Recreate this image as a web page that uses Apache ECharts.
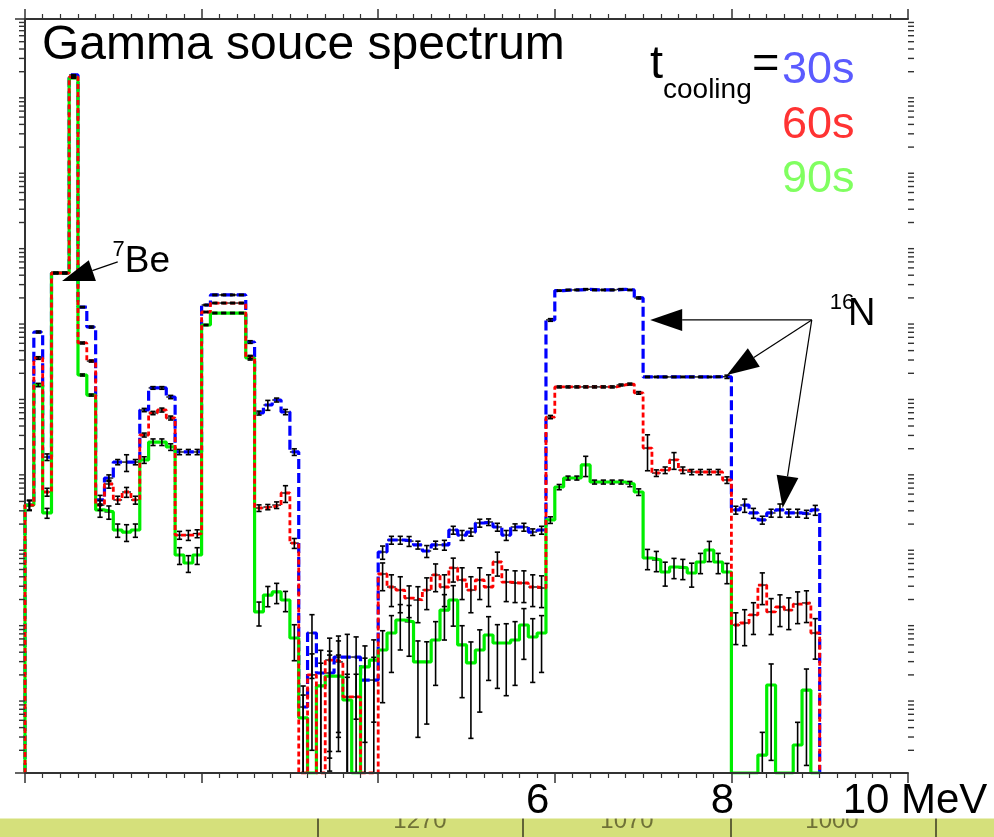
<!DOCTYPE html>
<html>
<head>
<meta charset="utf-8">
<script src="https://cdn.jsdelivr.net/npm/echarts@6/dist/echarts.min.js"></script>
<style>
  html, body { margin: 0; padding: 0; background: #ffffff; }
  #chart { width: 994px; height: 837px; }
</style>
</head>
<body>
<div id="chart"></div>
<script>
// Gamma source spectrum, 0.1 MeV bins starting at 0 MeV, for three cooling times.
const BIN_WIDTH = 0.1;          // MeV
const Y_MIN = 1, Y_MAX = 1e10;  // log axis range (empty bins sit on the floor)

const counts30s = [
  3.58e3, 7.06e5, 1.55e4, 4.28e6, 4.28e6, 1.81e9, 1.51e6, 8.22e5, 4.18e3, 8.17e3,
  1.33e4, 1.33e4, 1.33e4, 6.52e4, 1.28e5, 1.28e5, 9.70e4, 1.81e4, 1.81e4, 1.81e4,
  1.61e6, 2.19e6, 2.19e6, 2.19e6, 2.19e6, 5.20e5, 5.95e4, 7.60e4, 8.85e4, 6.14e4,
  1.81e4, 7.5, 71.9, 21.2, 21.2, 34.5, 34.5, 34.5, 17.1, 17.1,
  853, 1230, 1230, 1190, 1060, 880, 1060, 1060, 1670, 1430,
  1570, 2070, 2130, 1830, 1430, 1830, 1830, 1570, 1670, 1.02e6,
  2.50e6, 2.55e6, 2.55e6, 2.60e6, 2.55e6, 2.55e6, 2.55e6, 2.60e6, 2.55e6, 2.00e6,
  1.79e5, 1.79e5, 1.79e5, 1.79e5, 1.79e5, 1.79e5, 1.79e5, 1.79e5, 1.80e5, 1.80e5,
  3080, 3580, 2810, 2270, 2810, 3080, 2810, 2810, 2720, 3080
];
const counts60s = [
  3.58e3, 3.19e5, 5.33e3, 4.28e6, 4.28e6, 1.70e9, 5.05e5, 2.91e5, 3.58e3, 6.81e3,
  4.18e3, 5.33e3, 4.18e3, 3.04e4, 5.95e4, 6.52e4, 5.11e4, 1.43e3, 1.43e3, 1.50e3,
  1.30e6, 1.71e6, 1.71e6, 1.71e6, 1.71e6, 3.29e5, 3.27e3, 3.37e3, 3.58e3, 5.17e3,
  1.12e3, 1, 20.0, 1, 31.5, 29.7, 10.2, 10.2, 1, 1,
  436, 293, 267, 209, 197, 267, 423, 293, 524, 363,
  267, 363, 293, 629, 341, 331, 331, 293, 284, 5.26e4,
  1.32e5, 1.32e5, 1.32e5, 1.32e5, 1.32e5, 1.32e5, 1.32e5, 1.40e5, 1.44e5, 1.10e5,
  2.04e4, 9.52e3, 1.04e4, 1.42e4, 1.04e4, 9.82e3, 9.82e3, 9.82e3, 9.82e3, 7.69e3,
  91.8, 97.6, 125, 311, 137, 159, 145, 174, 180, 71.9
];
const counts90s = [
  3.58e3, 1.40e5, 2.81e3, 4.28e6, 4.28e6, 1.65e9, 1.90e5, 1.03e5, 3.08e3, 2.90e3,
  1.67e3, 1.57e3, 1.67e3, 1.42e4, 2.45e4, 2.45e4, 2.11e4, 778, 610, 778,
  8.74e5, 1.26e6, 1.26e6, 1.26e6, 1.26e6, 3.19e5, 137, 229, 252, 197,
  61.7, 5.4, 1, 14.3, 19.3, 19.3, 9.3, 1, 25.5, 31.5,
  42.8, 71.9, 107, 101, 29.7, 29.7, 58.1, 145, 197, 49.9,
  28.8, 42.8, 67.6, 53.0, 53.0, 58.1, 91.8, 63.6, 71.9, 2270,
  6210, 8170, 8170, 1.22e4, 7230, 7230, 7230, 7230, 6810, 5330,
  710, 668, 463, 540, 524, 449, 629, 907, 629, 463,
  1, 1, 1, 1.73, 14.7, 1, 1, 2.35, 12.6, 1
];

// Relative statistical uncertainty of each bin (sigma / content)
const relErr30s = [
  0.15, 0.03, 0.10, 0.02, 0.02, 0.01, 0.02, 0.03, 0.15, 0.10,
  0.08, 0.25, 0.08, 0.05, 0.04, 0.04, 0.05, 0.08, 0.08, 0.08,
  0.02, 0.02, 0.02, 0.02, 0.02, 0.04, 0.06, 0.15, 0.06, 0.08,
  0.10, 0.90, 0.75, 1.00, 0.95, 0.90, 1.00, 0.85, 0.95, 1.00,
  0.20, 0.12, 0.12, 0.15, 0.12, 0.18, 0.12, 0.15, 0.12, 0.15,
  0.12, 0.12, 0.10, 0.12, 0.15, 0.10, 0.12, 0.10, 0.12, 0.04,
  0.02, 0.02, 0.02, 0.02, 0.02, 0.02, 0.02, 0.02, 0.02, 0.03,
  0.02, 0.02, 0.02, 0.02, 0.02, 0.02, 0.02, 0.02, 0.02, 0.05,
  0.12, 0.20, 0.15, 0.12, 0.12, 0.20, 0.12, 0.12, 0.12, 0.15
];
const relErr60s = [
  0.15, 0.04, 0.12, 0.02, 0.02, 0.01, 0.03, 0.03, 0.15, 0.12,
  0.12, 0.15, 0.12, 0.06, 0.05, 0.06, 0.06, 0.12, 0.15, 0.12,
  0.02, 0.02, 0.02, 0.02, 0.02, 0.05, 0.10, 0.08, 0.10, 0.25,
  0.15, 1.00, 0.90, 1.00, 0.95, 0.90, 1.00, 1.00, 1.00, 1.00,
  0.40, 0.45, 0.50, 0.45, 0.50, 0.45, 0.40, 0.45, 0.35, 0.45,
  0.50, 0.45, 0.45, 0.35, 0.45, 0.45, 0.45, 0.45, 0.45, 0.05,
  0.03, 0.03, 0.03, 0.03, 0.03, 0.03, 0.03, 0.03, 0.03, 0.04,
  0.50, 0.10, 0.10, 0.25, 0.10, 0.08, 0.08, 0.08, 0.08, 0.10,
  0.45, 0.50, 0.45, 0.45, 0.50, 0.45, 0.45, 0.45, 0.45, 0.55
];
const relErr90s = [
  0.15, 0.05, 0.15, 0.02, 0.02, 0.01, 0.03, 0.03, 0.20, 0.20,
  0.20, 0.25, 0.20, 0.10, 0.10, 0.10, 0.10, 0.25, 0.25, 0.25,
  0.02, 0.02, 0.02, 0.02, 0.02, 0.06, 0.35, 0.30, 0.30, 0.30,
  0.50, 1.00, 1.00, 1.00, 0.90, 0.90, 1.00, 1.00, 0.90, 0.85,
  0.80, 0.70, 0.60, 0.65, 0.90, 0.85, 0.75, 0.60, 0.55, 0.80,
  0.90, 0.85, 0.75, 0.75, 0.80, 0.75, 0.65, 0.75, 0.70, 0.10,
  0.08, 0.06, 0.06, 0.30, 0.06, 0.06, 0.06, 0.06, 0.08, 0.10,
  0.30, 0.30, 0.35, 0.30, 0.30, 0.35, 0.30, 0.30, 0.30, 0.30,
  0, 0, 0, 1.00, 0.90, 0, 0, 1.00, 0.90, 0
];

const coolingLabels = ['30s', '60s', '90s'];
const tickValues = [6, 8, 10];
const tickTexts = ['6', '8', '10 MeV'];
const tableLabels = ['1270', '1070', '1000'];

const FONT = '"Liberation Sans", Arial, sans-serif';

// Step outline of a histogram, starting and ending on the axis floor
function stepPoints(vals) {
  const pts = [[0, Y_MIN]];
  vals.forEach((v, i) => {
    pts.push([i * BIN_WIDTH, v], [(i + 1) * BIN_WIDTH, v]);
  });
  pts.push([vals.length * BIN_WIDTH, Y_MIN]);
  return pts;
}

function histSeries(name, vals, color, dash, width, z) {
  return {
    type: 'line', name, data: stepPoints(vals), z,
    showSymbol: false, symbol: 'none', clip: true, silent: true,
    lineStyle: { color, width, type: dash, cap: 'butt' }
  };
}

// Thin black bar across each filled bin (the horizontal part of the error cross)
function binBarSeries(vals, z) {
  const data = [];
  vals.forEach((v, i) => { if (v > Y_MIN) data.push([i * BIN_WIDTH, (i + 1) * BIN_WIDTH, v]); });
  return {
    type: 'custom', z, silent: true, data, encode: { x: [0, 1], y: 2 },
    renderItem(params, api) {
      const a = api.coord([api.value(0), api.value(2)]);
      const b = api.coord([api.value(1), api.value(2)]);
      return { type: 'line', shape: { x1: a[0], y1: a[1], x2: b[0], y2: b[1] },
               style: { stroke: '#000', lineWidth: 1.3 } };
    }
  };
}

// Vertical error bars with end caps
function errorBarSeries(vals, rel, z) {
  const data = [];
  vals.forEach((v, i) => { if (v > Y_MIN && rel[i] > 0) data.push([(i + 0.5) * BIN_WIDTH, v, v * rel[i]]); });
  return {
    type: 'custom', z, silent: true, clip: false, data, encode: { x: 0, y: 1 },
    renderItem(params, api) {
      const cs = params.coordSys;
      const floor = cs.y + cs.height;
      const x = api.value(0), v = api.value(1), s = api.value(2);
      const top = api.coord([x, v + s]);
      const lowY = (v - s) > Y_MIN ? api.coord([x, v - s])[1] : floor;
      const cap = 2.6;
      const st = { stroke: '#000', lineWidth: 1.6 };
      const children = [
        { type: 'line', shape: { x1: top[0], y1: top[1], x2: top[0], y2: lowY }, style: st },
        { type: 'line', shape: { x1: top[0] - cap, y1: top[1], x2: top[0] + cap, y2: top[1] }, style: st }
      ];
      if (lowY < floor - 0.5) {
        children.push({ type: 'line', shape: { x1: top[0] - cap, y1: lowY, x2: top[0] + cap, y2: lowY }, style: st });
      }
      return { type: 'group', children };
    }
  };
}

// Log-axis sub-decade ticks (2..9) on the left and right frame
const minorLogTicks = [];
for (let d = 0; d < 10; d++) for (let m = 2; m <= 9; m++) minorLogTicks.push([0, m * Math.pow(10, d)]);
const minorTickSeries = {
  type: 'custom', z: 10, silent: true, clip: false, data: minorLogTicks, encode: { x: 0, y: 1 },
  renderItem(params, api) {
    const cs = params.coordSys;
    const y = api.coord([0, api.value(1)])[1];
    const st = { stroke: '#333', lineWidth: 1.4 };
    return { type: 'group', children: [
      { type: 'line', shape: { x1: cs.x - 6, y1: y, x2: cs.x, y2: y }, style: st },
      { type: 'line', shape: { x1: cs.x + cs.width, y1: y, x2: cs.x + cs.width + 6, y2: y }, style: st }
    ] };
  }
};

const axisLineStyle = { color: '#333', width: 2 };
const xAxisCommon = {
  type: 'value', min: 0, max: 10, interval: 2,
  splitLine: { show: false },
  axisLine: { show: true, onZero: false, lineStyle: axisLineStyle },
  axisTick: { show: true, length: 10, lineStyle: { color: '#333', width: 1.5 } },
  minorTick: { show: true, splitNumber: 10, length: 5, lineStyle: { color: '#333', width: 1.2 } }
};
const yAxisCommon = {
  type: 'log', logBase: 10, min: Y_MIN, max: Y_MAX, splitNumber: 10,
  splitLine: { show: false },
  axisLine: { show: true, lineStyle: axisLineStyle },
  axisTick: { show: true, length: 10, lineStyle: { color: '#333', width: 1.5 } },
  axisLabel: { show: false }
};

// Per-label shifts of the energy labels relative to their ticks
const tickShift = { 6: [0, 34, 0, 0], 8: [0, 18, 0, 0], 10: [0, 0, 0, 14] };
const rich = {};
tickValues.forEach((v) => {
  rich['t' + v] = { fontSize: 42, fontFamily: FONT, color: '#000', padding: tickShift[v] };
});

const chart = echarts.init(document.getElementById('chart'), null, { renderer: 'canvas' });

const option = {
  backgroundColor: '#ffffff',
  animation: false,
  grid: { left: 25, top: 19, width: 883, height: 754, containLabel: false, outerBoundsMode: 'none' },
  xAxis: [
    Object.assign({}, xAxisCommon, {
      position: 'bottom', z: 50,
      axisLabel: {
        show: true, margin: 7, fontSize: 42, fontFamily: FONT, color: '#000',
        formatter: (v) => {
          const k = tickValues.indexOf(v);
          return k < 0 ? '' : '{t' + v + '|' + tickTexts[k] + '}';
        },
        rich
      }
    }),
    Object.assign({}, xAxisCommon, { position: 'top', axisLabel: { show: false } })
  ],
  yAxis: [
    Object.assign({}, yAxisCommon, { position: 'left' }),
    Object.assign({}, yAxisCommon, { position: 'right' })
  ],
  series: [
    binBarSeries(counts30s, 1),
    binBarSeries(counts60s, 1),
    binBarSeries(counts90s, 1),
    histSeries(coolingLabels[0], counts30s, '#0000ff', [10, 4], 3.2, 3),
    histSeries(coolingLabels[2], counts90s, '#00ee00', 'solid', 3.2, 4),
    histSeries(coolingLabels[1], counts60s, '#ff0000', [5, 3], 2.8, 5),
    errorBarSeries(counts30s, relErr30s, 6),
    errorBarSeries(counts60s, relErr60s, 6),
    errorBarSeries(counts90s, relErr90s, 6),
    minorTickSeries
  ]
};
chart.setOption(option);

// ---- annotations, anchored in data coordinates ----
const px = (p) => chart.convertToPixel({ xAxisIndex: 0, yAxisIndex: 0 }, p);

function arrowElements(tailData, tipData) {
  const t = px(tailData), h = px(tipData);
  const dx = h[0] - t[0], dy = h[1] - t[1];
  const len = Math.sqrt(dx * dx + dy * dy);
  const ux = dx / len, uy = dy / len;
  const headLen = 32, halfW = 11;
  const bx = h[0] - ux * headLen, by = h[1] - uy * headLen;
  return [
    { type: 'line', z: 20, shape: { x1: t[0], y1: t[1], x2: bx, y2: by }, style: { stroke: '#000', lineWidth: 1.2 } },
    { type: 'polygon', z: 20, shape: { points: [[h[0], h[1]], [bx - uy * halfW, by + ux * halfW], [bx + uy * halfW, by - ux * halfW]] },
      style: { fill: '#000' } }
  ];
}

function textAt(text, x, y, size, color, z) {
  return { type: 'text', x, y, z: z || 20,
           style: { text, font: size + 'px ' + FONT, fill: color, align: 'left', verticalAlign: 'middle' } };
}

const beArrow = { tail: [1.05, 6.0e6], tip: [0.42, 3.35e6] };
const beLabel = [1.13, 5.98e6], beMass = [0.99, 8.6e6];
const nTail = [8.91, 1.02e6];
const nTips = [[7.08, 1.02e6], [7.95, 1.9e5], [8.58, 3.27e3]];
const nLabel = [9.32, 1.19e6], nMass = [9.115, 1.71e6];

const elements = [];
elements.push(...arrowElements(beArrow.tail, beArrow.tip));
nTips.forEach((tip) => elements.push(...arrowElements(nTail, tip)));

const pBe = px(beLabel), pBeM = px(beMass), pN = px(nLabel), pNM = px(nMass);
elements.push(textAt('Be', pBe[0], pBe[1], 37, '#000'));
elements.push(textAt('7', pBeM[0], pBeM[1], 22, '#000'));
elements.push(textAt('N', pN[0], pN[1], 38, '#000'));
elements.push(textAt('16', pNM[0], pNM[1], 22, '#000'));

// Title and cooling-time key
elements.push(textAt('Gamma souce spectrum', 42, 46, 48, '#000'));
elements.push(textAt('t', 650, 65.5, 47, '#000'));
elements.push(textAt('cooling', 663, 90, 28, '#000'));
elements.push(textAt('=', 752, 65.5, 47, '#000'));
const keyColors = ['#5b5bff', '#ff3333', '#80ff60'];
coolingLabels.forEach((lab, i) => {
  elements.push(textAt(lab, 782, 71 + i * 54.5, 45, keyColors[i]));
});

// Table strip below the plot
elements.push({ type: 'rect', z: 1, shape: { x: 0, y: 804, width: 994, height: 33 }, style: { fill: '#d5e07b' } });
[318, 523, 731, 936].forEach((x) => {
  elements.push({ type: 'line', z: 3, shape: { x1: x, y1: 804, x2: x, y2: 837 }, style: { stroke: '#3a3a20', lineWidth: 1.5 } });
});
[420, 627, 832].forEach((x, i) => {
  elements.push({ type: 'text', x, y: 821, z: 2,
    style: { text: tableLabels[i], font: '24px ' + FONT, fill: '#5d5d2c', align: 'center', verticalAlign: 'middle', opacity: 0.85 } });
});
elements.push({ type: 'rect', z: 5, shape: { x: 0, y: 790, width: 994, height: 28.5 }, style: { fill: '#ffffff' } });

chart.setOption({ graphic: { elements } });
</script>
</body>
</html>
